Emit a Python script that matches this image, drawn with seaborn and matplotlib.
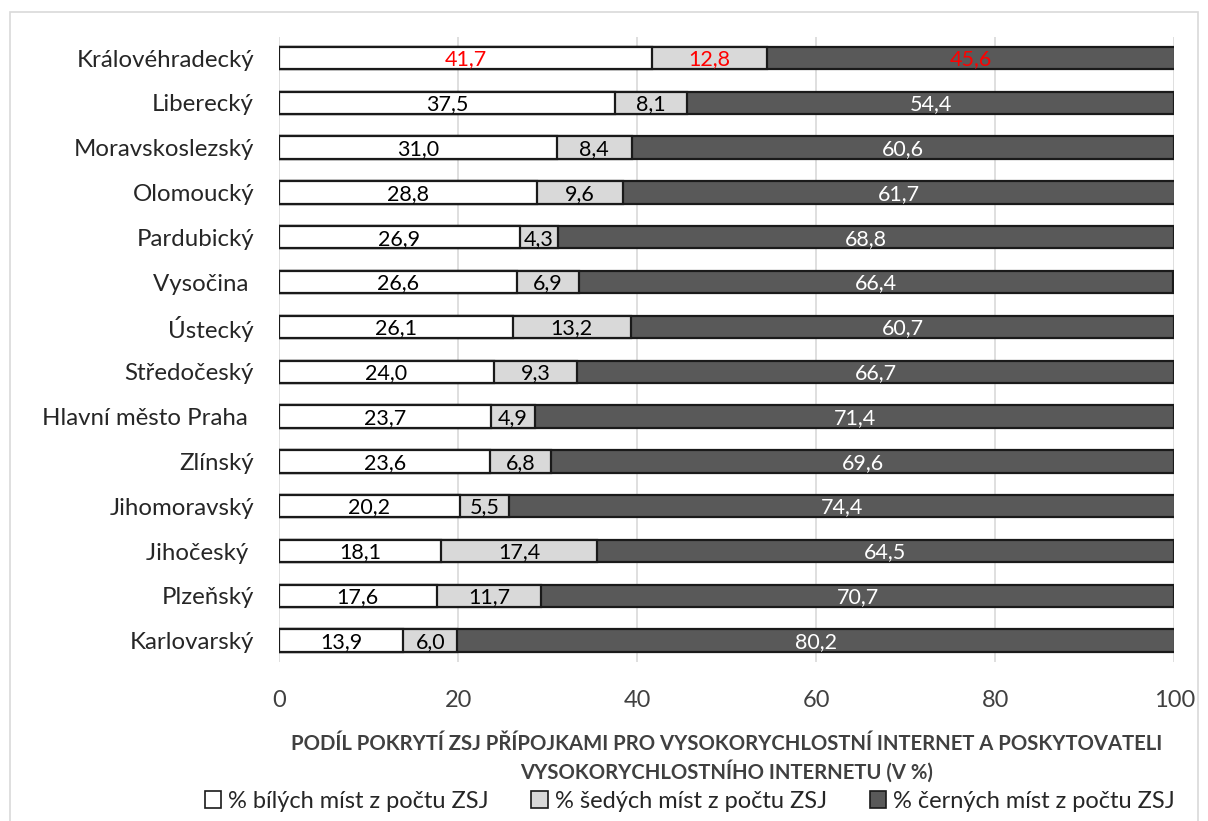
import numpy as np
import pandas as pd
import matplotlib
matplotlib.use("Agg")
import matplotlib.pyplot as plt
import seaborn as sns
from matplotlib.patches import Rectangle, Patch

# data
regions = [
    "Královéhradecký", "Liberecký", "Moravskoslezský", "Olomoucký", "Pardubický",
    "Vysočina ", "Ústecký", "Středočeský", "Hlavní město Praha ", "Zlínský",
    "Jihomoravský", "Jihočeský ", "Plzeňský", "Karlovarský",
]
white = [41.7, 37.5, 31.0, 28.8, 26.9, 26.6, 26.1, 24.0, 23.7, 23.6, 20.2, 18.1, 17.6, 13.9]
grey = [12.8, 8.1, 8.4, 9.6, 4.3, 6.9, 13.2, 9.3, 4.9, 6.8, 5.5, 17.4, 11.7, 6.0]
black = [45.6, 54.4, 60.6, 61.7, 68.8, 66.4, 60.7, 66.7, 71.4, 69.6, 74.4, 64.5, 70.7, 80.2]
series_names = ["% bílých míst z počtu ZSJ", "% šedých míst z počtu ZSJ", "% černých míst z počtu ZSJ"]

df = pd.DataFrame({"region": regions, "white": white, "grey": grey, "black": black})
df["c1"] = df["white"]
df["c2"] = df["white"] + df["grey"]
df["c3"] = df["c2"] + df["black"]

sns.set_style("white")
plt.rcParams["font.family"] = ["Lato", "DejaVu Sans"]

fig = plt.figure(figsize=(12.08, 8.21), dpi=100)
ax = fig.add_axes([0.231, 0.194, 0.741, 0.761])

colors = ["#ffffff", "#d9d9d9", "#595959"]
bar_kws = dict(orient="h", width=0.5, edgecolor="#1a1a1a", linewidth=1.6, ax=ax, zorder=3)
# stacked bars: draw cumulative totals back-to-front
sns.barplot(data=df, x="c3", y="region", color=colors[2], saturation=1, **bar_kws)
sns.barplot(data=df, x="c2", y="region", color=colors[1], saturation=1, **bar_kws)
sns.barplot(data=df, x="c1", y="region", color=colors[0], saturation=1, **bar_kws)

# segment value labels
for i, row in df.iterrows():
    segs = [(0, row["white"]), (row["c1"], row["grey"]), (row["c2"], row["black"])]
    for k, (start, val) in enumerate(segs):
        if i == 0:
            tc = "#ff0000"
        else:
            tc = "white" if k == 2 else "black"
        ax.text(start + val / 2, i + 0.03, f"{val:.1f}".replace(".", ","),
                ha="center", va="center", fontsize=15.5, color=tc, zorder=5)

ax.set_xlim(0, 100)
ax.set_ylim(len(regions) - 0.53, -0.47)
ax.set_xticks(np.arange(0, 101, 20))
ax.xaxis.grid(True, color="#d9d9d9", linewidth=1.2, zorder=0)
ax.set_axisbelow(True)
for s in ax.spines.values():
    s.set_visible(False)
ax.tick_params(axis="x", labelsize=17, colors="#404040", length=0, pad=20)
ax.tick_params(axis="y", labelsize=17.3, colors="#262626", length=0, pad=18)
ax.set_ylabel("")
ax.set_xlabel("PODÍL POKRYTÍ ZSJ PŘÍPOJKAMI PRO VYSOKORYCHLOSTNÍ INTERNET A POSKYTOVATELI\nVYSOKORYCHLOSTNÍHO INTERNETU (V %)",
              fontsize=14.6, fontweight="bold", color="#404040", labelpad=17, linespacing=1.3)

handles = [Patch(facecolor=c, edgecolor="#1a1a1a", linewidth=1.2) for c in colors]
fig.legend(handles, series_names, loc="center", bbox_to_anchor=(0.571, 0.024), ncol=3,
           frameon=False, fontsize=17, handlelength=0.7, handleheight=0.7,
           handletextpad=0.3, columnspacing=1.8, labelcolor="#262626")

# chart area border
fig.patches.append(Rectangle((10 / 1208, -0.01), 1188 / 1208, 1 - 12 / 821 + 0.01,
                             transform=fig.transFigure, fill=False,
                             edgecolor="#d9d9d9", linewidth=1.2))

fig.savefig("out.png", dpi=100)
